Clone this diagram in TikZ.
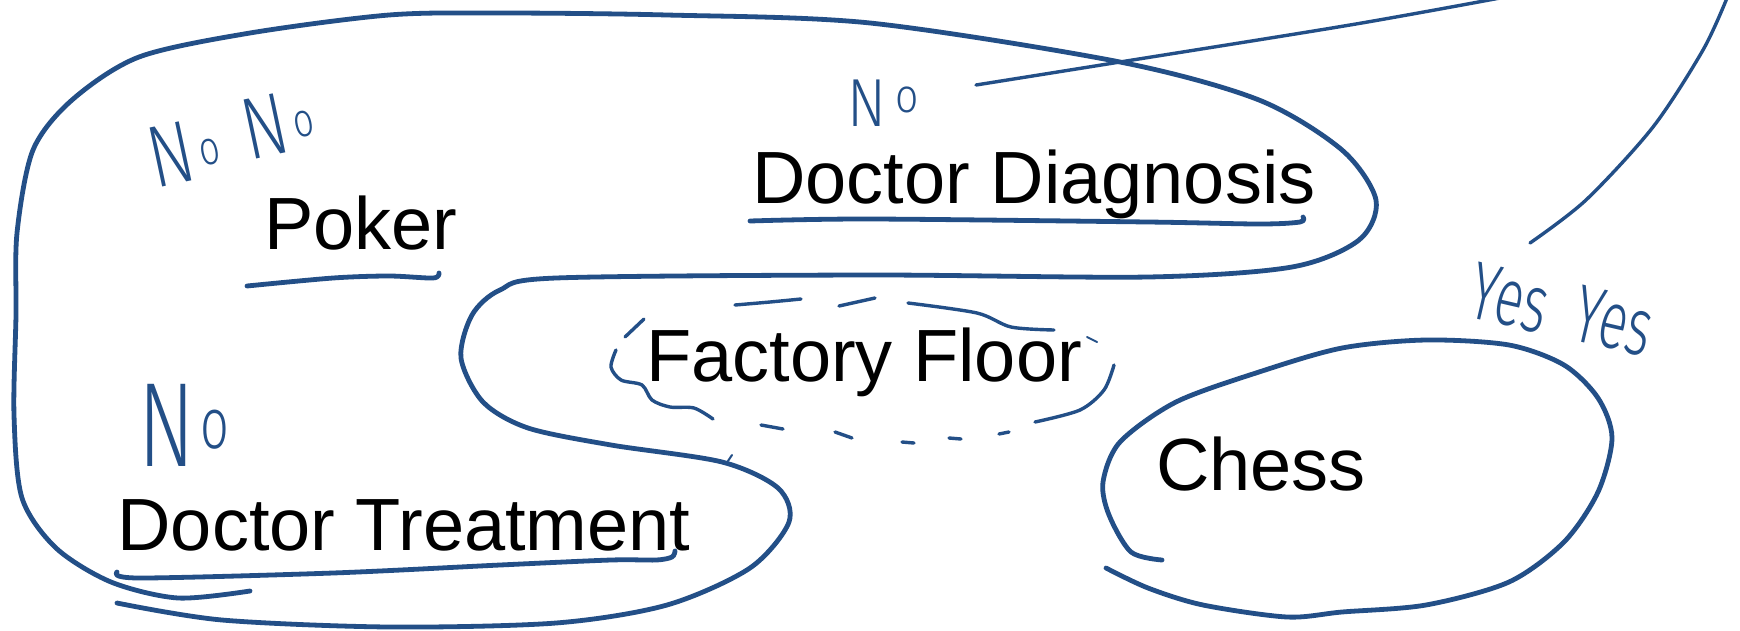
\documentclass[tikz,border=0pt]{standalone}
\usepackage{fontspec}
\setmainfont{Liberation Sans}
\newfontfamily\handfont{Fira Sans}[UprightFont={* Light}]
\definecolor{ink}{RGB}{35,79,135}
\newcommand{\hsz}[1]{\fontsize{#1}{#1}\selectfont}
\begin{document}
\begin{tikzpicture}[x=1pt,y=-1pt,
  stroke/.style={draw=ink, line width=4.8pt, line cap=round, line join=round},
  thin/.style={draw=ink, line width=3.4pt, line cap=round, line join=round},
  fine/.style={draw=ink, line width=2pt, line cap=round},
  lbl/.style={font=\fontsize{74}{80}\selectfont, text=black, inner sep=0pt, anchor=base},
  hand/.style={text=ink, inner sep=0pt, font=\handfont}]
\useasboundingbox (0,0) rectangle (1740,630);
\fill[white] (0,0) rectangle (1740,630);

% labels
\node[lbl] (poker) at (361,249) {Poker};
\node[lbl] (diag) at (1034,203) {Doctor Diagnosis};
\node[lbl] (factory) at (864,381) {Factory Floor};
\node[lbl] (chess) at (1261,490) {Chess};
\node[lbl] (treat) at (404,550) {Doctor Treatment};

% handwritten notes
\node[hand, rotate=12] (nonoa) at (184,152)
  {\scalebox{0.75}[1]{\hsz{88}N\kern8pt\raisebox{12pt}{\hsz{48}o}}};
\node[hand, rotate=12] (nonob) at (278,124)
  {\scalebox{0.75}[1]{\hsz{88}N\kern8pt\raisebox{12pt}{\hsz{48}o}}};
\node[hand] (nodiag) at (883,103)
  {\scalebox{0.85}[1]{\hsz{68}N\kern10pt\raisebox{14pt}{\hsz{48}o}}};
\node[hand] (notreat) at (184,425)
  {\scalebox{0.7}[1]{\hsz{120}N\kern8pt\raisebox{18pt}{\hsz{72}o}}};
\node[hand, rotate=-13] (yesa) at (1510,298)
  {\scalebox{0.65}[1]{\hsz{82}Yes}};
\node[hand, rotate=-13] (yesb) at (1614,321)
  {\scalebox{0.65}[1]{\hsz{82}Yes}};

% big outer loop
\draw[stroke] plot[smooth] coordinates {(117,603) (222,620) (389,627) (556,623) (667,605) (750,568) (789,522) (778,488) (722,462) (611,445) (528,428) (483,402) (461,358) (472,315) (500,290) (556,278) (871,275) (1148,277) (1292,267) (1359,240) (1376,200) (1342,150) (1259,100) (1120,62) (870,23) (667,15) (500,13) (389,15) (250,33) (139,57) (72,100) (33,150) (17,233) (16,315) (14,415) (22,498) (56,548) (111,582) (178,598) (250,591)};

% crossing line and right arc
\draw[thin] plot[smooth] coordinates {(976,85) (1120,62) (1350,25) (1500,-2)};
\draw[thin] plot[smooth] coordinates {(1727,-2) (1703,50) (1653,127) (1586,200) (1530,243)};

% chess loop
\draw[stroke] plot[smooth] coordinates {(1162,560) (1131,552) (1109,515) (1103,482) (1120,442) (1176,402) (1259,372) (1342,348) (1426,340) (1509,345) (1564,365) (1598,398) (1612,438) (1598,492) (1564,542) (1509,582) (1426,605) (1342,612) (1287,617) (1203,605) (1148,588) (1106,568)};

% underlines
\draw[stroke] plot[smooth] coordinates {(247,286) (333,278) (389,276) (433,278) (439,273)};
\draw[stroke] plot[smooth] coordinates {(750,221) (870,219) (1148,222) (1259,224) (1300,222) (1303,217)};
\draw[stroke] plot[smooth] coordinates {(117,572) (139,578) (333,573) (500,565) (611,560) (656,560) (672,557) (675,551)};

% factory floor sketchy ellipse
\draw[thin] plot[smooth] coordinates {(735,305) (770,302) (801,299)};
\draw[thin] (839,306) -- (875,298);
\draw[thin] plot[smooth] coordinates {(908,303) (977,313) (1011,327) (1054,330)};
\draw[fine] (1087,337) -- (1097,342);
\draw[thin] plot[smooth] coordinates {(1114,365) (1104,390) (1080,410) (1035,422)};
\draw[thin] (761,425) -- (783,429);
\draw[thin] (835,432) -- (852,438);
\draw[thin] (902,442) -- (914,443);
\draw[thin] (949,438) -- (961,439);
\draw[thin] (999,434) -- (1009,432);
\draw[thin] (644,319) -- (625,337);
\draw[thin] plot[smooth] coordinates {(616,350) (611,367) (621,380) (642,385) (652,400) (670,407) (694,408) (713,419)};
\draw[fine] (728,461) -- (732,455);
\end{tikzpicture}
\end{document}
